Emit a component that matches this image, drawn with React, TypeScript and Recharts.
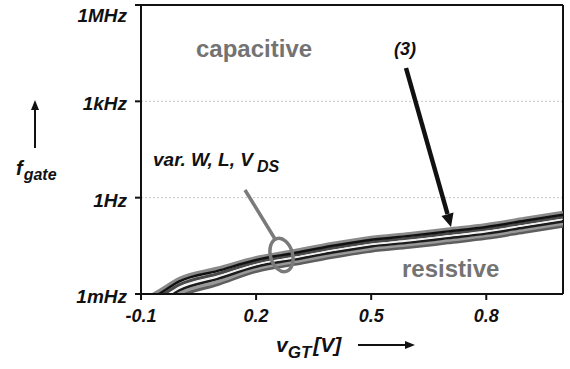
import React from "react";
import {
  LineChart,
  Line,
  XAxis,
  YAxis,
  CartesianGrid,
  ReferenceLine,
} from "recharts";

// gate voltage v_GT [V]
const vgt = [-0.1, -0.05, 0, 0.1, 0.2, 0.3, 0.4, 0.5, 0.6, 0.7, 0.8, 0.9, 1.0];

// log10(f_gate / Hz) for each simulated device (var. W, L, V_DS)
const curveA = [-3.24, -2.88, -2.52, -2.2, -1.87, -1.65, -1.43, -1.24, -1.12, -0.98, -0.84, -0.65, -0.46];
const curveB = [-3.36, -2.98, -2.61, -2.28, -1.94, -1.72, -1.5, -1.31, -1.19, -1.05, -0.91, -0.72, -0.53];
const curveC = [-3.48, -3.08, -2.71, -2.37, -2.01, -1.79, -1.57, -1.38, -1.26, -1.12, -0.98, -0.79, -0.6];
const curveD = [-3.6, -3.18, -2.8, -2.45, -2.08, -1.86, -1.64, -1.45, -1.33, -1.19, -1.05, -0.86, -0.67];
const curveE = [-3.72, -3.28, -2.89, -2.53, -2.15, -1.93, -1.71, -1.52, -1.4, -1.26, -1.12, -0.93, -0.74];
const curveF = [-3.84, -3.38, -2.99, -2.62, -2.22, -2.0, -1.78, -1.59, -1.47, -1.33, -1.19, -1.0, -0.81];
const curveG = [-3.96, -3.48, -3.08, -2.7, -2.29, -2.07, -1.85, -1.66, -1.54, -1.4, -1.26, -1.07, -0.88];

const xTicks = [-0.1, 0.2, 0.5, 0.8];
const yTicks = [-3, 0, 3, 6];
const yTickLabels: Record<number, string> = { "-3": "1mHz", 0: "1Hz", 3: "1kHz", 6: "1MHz" };

const series = [
  { key: "a", values: curveA, color: "#8a8a8a", width: 3.5 },
  { key: "g", values: curveG, color: "#5e5e5e", width: 3.5 },
  { key: "f", values: curveF, color: "#999999", width: 3 },
  { key: "c", values: curveC, color: "#4a4a4a", width: 3 },
  { key: "b", values: curveB, color: "#111111", width: 2.5 },
  { key: "e", values: curveE, color: "#1c1c1c", width: 2.5 },
  { key: "d", values: curveD, color: "#eeeeee", width: 1 },
];

const data = vgt.map((x, i) => {
  const row: Record<string, number> = { x };
  series.forEach((s) => (row[s.key] = s.values[i]));
  return row;
});

const font = "'Liberation Sans', Arial, sans-serif";

const XTick = (props: any) => {
  const { x, y, payload } = props;
  return (
    <text x={x} y={y} dy="0.71em" textAnchor="middle" fontFamily={font} fontWeight={700} fontStyle="italic" fontSize={18} fill="#111">
      {String(payload.value)}
    </text>
  );
};

const YTick = (props: any) => {
  const { x, y, payload } = props;
  // the top label sits just below its tick so it stays inside the picture
  const dy = payload.value === 6 ? 13 : 9;
  return (
    <text x={x} y={y} dy={dy} textAnchor="end" fontFamily={font} fontWeight={700} fontStyle="italic" fontSize={19} fill="#111">
      {yTickLabels[payload.value]}
    </text>
  );
};

export default function App() {
  return (
    <div style={{ position: "absolute", left: 0, top: 0, width: 570, height: 369, background: "#fff" }}>
      <LineChart width={570} height={369} data={data} margin={{ top: 5, right: 7, bottom: 0, left: 0 }}>
        <CartesianGrid horizontal vertical={false} stroke="#c4c4c4" strokeDasharray="2 2" />
        <XAxis
          dataKey="x"
          type="number"
          domain={[-0.1, 1.0]}
          ticks={xTicks}
          height={75}
          allowDataOverflow
          stroke="#111"
          strokeWidth={2}
          tickSize={6}
          tickMargin={9}
          tick={<XTick />}
        />
        <YAxis
          type="number"
          domain={[-3, 6]}
          ticks={yTicks}
          width={141}
          allowDataOverflow
          stroke="#111"
          strokeWidth={2}
          tickSize={6}
          tickMargin={8}
          tick={<YTick />}
        />
        <ReferenceLine y={6} stroke="#111" strokeWidth={2} />
        <ReferenceLine x={1.0} stroke="#111" strokeWidth={2} />
        {series.map((s) => (
          <Line
            key={s.key}
            dataKey={s.key}
            type="monotone"
            stroke={s.color}
            strokeWidth={s.width}
            dot={false}
            isAnimationActive={false}
          />
        ))}
      </LineChart>

      <svg
        width={570}
        height={369}
        style={{ position: "absolute", left: 0, top: 0, pointerEvents: "none" }}
      >
        {/* region labels */}
        <text x={196} y={57} fontFamily={font} fontWeight={700} fontSize={24} fill="#737373">
          capacitive
        </text>
        <text x={402} y={277} fontFamily={font} fontWeight={700} fontSize={24} fill="#737373">
          resistive
        </text>

        {/* (3) arrow */}
        <text x={405} y={55} textAnchor="middle" fontFamily={font} fontWeight={700} fontStyle="italic" fontSize={18} fill="#111">
          (3)
        </text>
        <line x1={406} y1={68} x2={447.5} y2={214} stroke="#111" strokeWidth={4.5} />
        <polygon points="451,227 453.5,212.5 441.5,216" fill="#111" />

        {/* var. W, L, V_DS marker */}
        <text x={153} y={166} fontFamily={font} fontWeight={700} fontStyle="italic" fontSize={19} fill="#111">
          var. W, L, V
          <tspan dx={4} dy={6} fontSize={16}>DS</tspan>
        </text>
        <line x1={245} y1={190} x2={275} y2={239} stroke="#7a7a7a" strokeWidth={3.5} />
        <ellipse
          cx={281.5}
          cy={255}
          rx={11}
          ry={17}
          fill="none"
          stroke="#7a7a7a"
          strokeWidth={3.5}
          transform="rotate(-16 281.5 255)"
        />

        {/* y axis title */}
        <line x1={35} y1={148} x2={35} y2={108} stroke="#111" strokeWidth={2} />
        <polygon points="35,100 31,110 39,110" fill="#111" />
        <text x={16} y={175} fontFamily={font} fontWeight={700} fontStyle="italic" fontSize={20} fill="#111">
          f
          <tspan dx={1} dy={5} fontSize={16}>gate</tspan>
        </text>

        {/* x axis title */}
        <text x={276} y={352} fontFamily={font} fontWeight={700} fontStyle="italic" fontSize={21} fill="#111">
          v
          <tspan dy={6} fontSize={17}>GT</tspan>
          <tspan dx={2} dy={-6} fontSize={21}>[V]</tspan>
        </text>
        <line x1={358} y1={345} x2={406} y2={345} stroke="#111" strokeWidth={2} />
        <polygon points="415,345 405,341 405,349" fill="#111" />
      </svg>
    </div>
  );
}
